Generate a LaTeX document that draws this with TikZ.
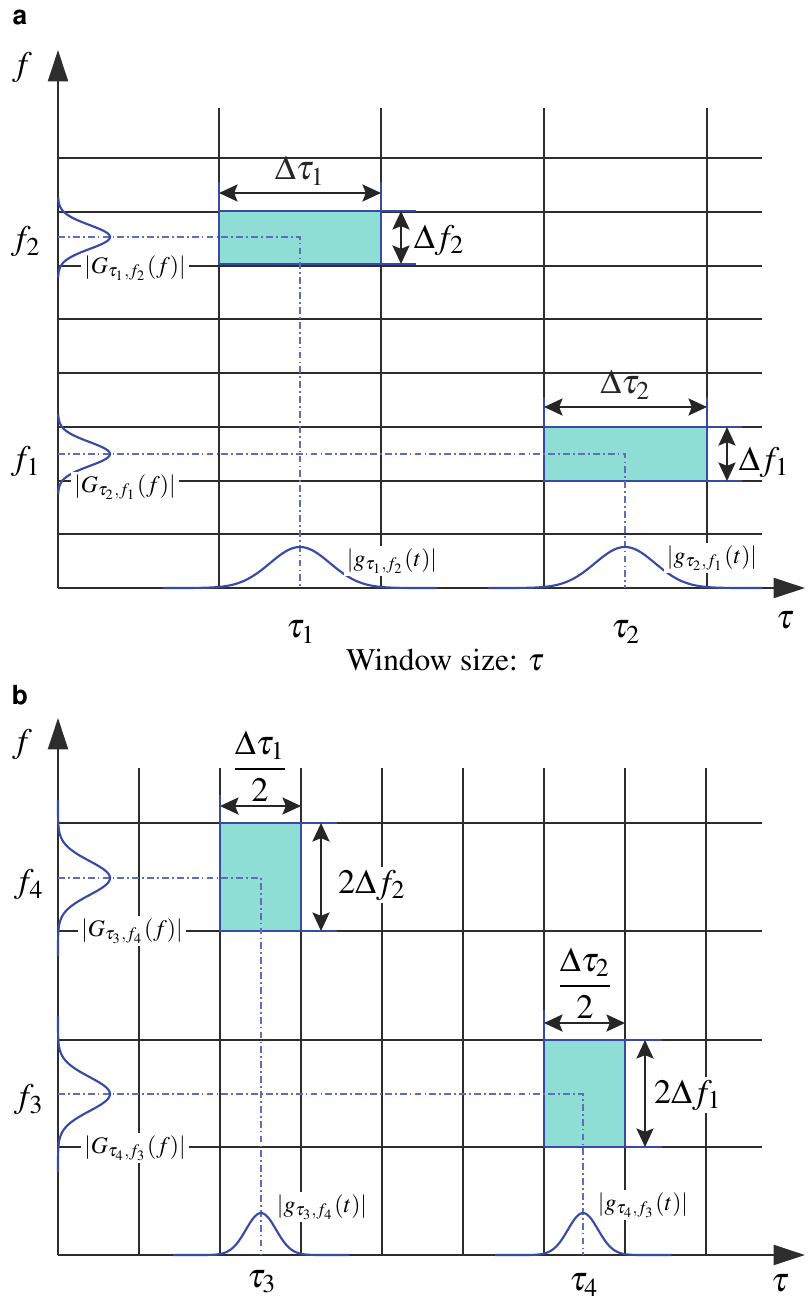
\documentclass[tikz,border=0pt]{standalone}
\usepackage[T1]{fontenc}
\usepackage{mathptmx}
\usepackage[scaled=.92]{helvet}
\usepackage{tikz}
\usetikzlibrary{arrows.meta}
\definecolor{wincyan}{RGB}{143,222,214}
\definecolor{winblue}{RGB}{55,75,165}
\definecolor{gridgray}{RGB}{45,45,45}
\tikzset{every picture/.style={line width=.7pt}}

\begin{document}
\begin{tikzpicture}[x=.35pt,y=-.35pt,
 every node/.style={font=\fontsize{12}{14}\selectfont},
 gline/.style={gridgray,line width=.7pt},
 axisline/.style={gridgray,line width=.8pt,-{Triangle[length=11pt,width=7pt]}},
 winedge/.style={winblue,line width=.6pt},
 dimarrow/.style={black!85,line width=.7pt,{Stealth[length=6.5pt,width=6pt,inset=1.2pt]}-{Stealth[length=6.5pt,width=6pt,inset=1.2pt]}},
 guide/.style={winblue!80,line width=.5pt,dash pattern=on 2.4pt off 1.1pt on .6pt off 1.1pt},
 gcurve/.style={winblue,line width=.75pt},
 tag/.style={fill=white,inner sep=1pt,font=\fontsize{8.3}{10}\selectfont},
 panel/.style={font=\fontsize{10}{12}\sffamily\bfseries}]
 \useasboundingbox (0,0) rectangle (808,1299);
 \node[panel] (pa) at (20,18) {a};
 \foreach \k in {0,...,7}
  \draw[gline] (58,{158+53.75*\k}) -- (762,{158+53.75*\k});
 \foreach \x in {219,381,544,707}
  \draw[gline] (\x,108) -- (\x,588);
 \draw[axisline] (58,588) -- (805,588);
 \draw[axisline] (58,588) -- (58,50);
 \fill[wincyan] (219,211) rectangle (381,264);
 \fill[wincyan] (544,427) rectangle (707,481);
 \draw[winedge] (219,182) -- (219,264) -- (416,264) (219,211) -- (416,211) (381,182) -- (381,264);
 \draw[winedge] (544,397) -- (544,481) -- (742,481) (544,427) -- (742,427) (707,397) -- (707,481);
 \draw[dimarrow] (219,193) -- node[above=-1pt] (dt1) {$\Delta\tau_1$} (381,193);
 \draw[dimarrow] (544,407) -- node[above=-1pt] (dt2) {$\Delta\tau_2$} (707,407);
 \draw[dimarrow] (401,211) -- (401,264);
 \draw[dimarrow] (727,427) -- (727,481);
 \node[anchor=west,inner sep=1pt] (df2) at (410,240) {$\Delta f_2$};
 \node[anchor=west,inner sep=1pt] (df1) at (735,462) {$\Delta f_1$};
 \draw[guide] (58,237) -- (300,237) -- (300,588);
 \draw[guide] (58,454) -- (625,454) -- (625,588);
 \foreach \c in {237,454}
  \draw[gcurve] plot[domain=-40:40,samples=70] ({58+52*exp(-0.5*(\x/12)*(\x/12))},{\c+\x});
 \foreach \c in {300,625}
  \draw[gcurve] plot[domain=-137:137,samples=120] ({\c+\x},{588-41*exp(-0.5*(\x/30)*(\x/30))});
 \node[tag] (G12) at (135,268) {$|G_{\tau_1,f_2}(f)|$};
 \node[tag] (G21) at (125,487) {$|G_{\tau_2,f_1}(f)|$};
 \node[tag] (g12) at (392,561) {$|g_{\tau_1,f_2}(t)|$};
 \node[tag] (g21) at (712,558) {$|g_{\tau_2,f_1}(t)|$};
 \node (fa) at (22,68) {$f$};
 \node (f2) at (26,242) {$f_2$};
 \node (f1) at (26,462) {$f_1$};
 \node (t1) at (301,632) {$\tau_1$};
 \node (t2) at (626,632) {$\tau_2$};
 \node (ta) at (785,620) {$\tau$};
 \node[font=\fontsize{11}{13}\selectfont] (ws) at (445,660) {Window size: $\tau$};
 \node[panel] (pb) at (20,695) {b};
 \foreach \y in {823,931,1040,1147}
  \draw[gline] (58,\y) -- (762,\y);
 \foreach \k in {1,...,8}
  \draw[gline] ({58+81*\k},768) -- ({58+81*\k},1255);
 \draw[axisline] (58,1255) -- (805,1255);
 \draw[axisline] (58,1255) -- (58,718);
 \fill[wincyan] (220,823) rectangle (301,931);
 \fill[wincyan] (544,1040) rectangle (625,1147);
 \draw[winedge] (220,795) -- (220,931) -- (337,931) (220,823) -- (337,823) (301,823) -- (301,931);
 \draw[winedge] (544,1010) -- (544,1147) -- (662,1147) (544,1040) -- (662,1040) (625,1040) -- (625,1147);
 \draw[dimarrow] (220,806) -- (301,806);
 \draw[dimarrow] (544,1023) -- (625,1023);
 \draw[dimarrow] (321,823) -- (321,931);
 \draw[dimarrow] (645,1040) -- (645,1147);
 \node (ht1) at (260,766) {$\displaystyle\frac{\Delta\tau_1}{2}$};
 \node (ht2) at (585,983) {$\displaystyle\frac{\Delta\tau_2}{2}$};
 \node[fill=white,inner sep=1pt] (df22) at (372,885) {$2\Delta f_2$};
 \node[fill=white,inner sep=1pt] (df11) at (688,1095) {$2\Delta f_1$};
 \draw[guide] (58,878) -- (261,878) -- (261,1255);
 \draw[guide] (58,1094) -- (583,1094) -- (583,1255);
 \foreach \c in {878,1094}
  \draw[gcurve] plot[domain=-78:78,samples=90] ({58+52*exp(-0.5*(\x/17)*(\x/17))},{\c+\x});
 \foreach \c in {261,583}
  \draw[gcurve] plot[domain=-88:88,samples=90] ({\c+\x},{1255-42*exp(-0.5*(\x/15)*(\x/15))});
 \node[tag] (G34) at (132,931) {$|G_{\tau_3,f_4}(f)|$};
 \node[tag] (G43) at (135,1148) {$|G_{\tau_4,f_3}(f)|$};
 \node[tag] (g34) at (322,1207) {$|g_{\tau_3,f_4}(t)|$};
 \node[tag] (g43) at (643,1205) {$|g_{\tau_4,f_3}(t)|$};
 \node (fb) at (22,745) {$f$};
 \node (f4) at (29,885) {$f_4$};
 \node (f3) at (29,1100) {$f_3$};
 \node (t3) at (262,1282) {$\tau_3$};
 \node (t4) at (584,1285) {$\tau_4$};
 \node (tb) at (780,1283) {$\tau$};
\end{tikzpicture}
\end{document}
